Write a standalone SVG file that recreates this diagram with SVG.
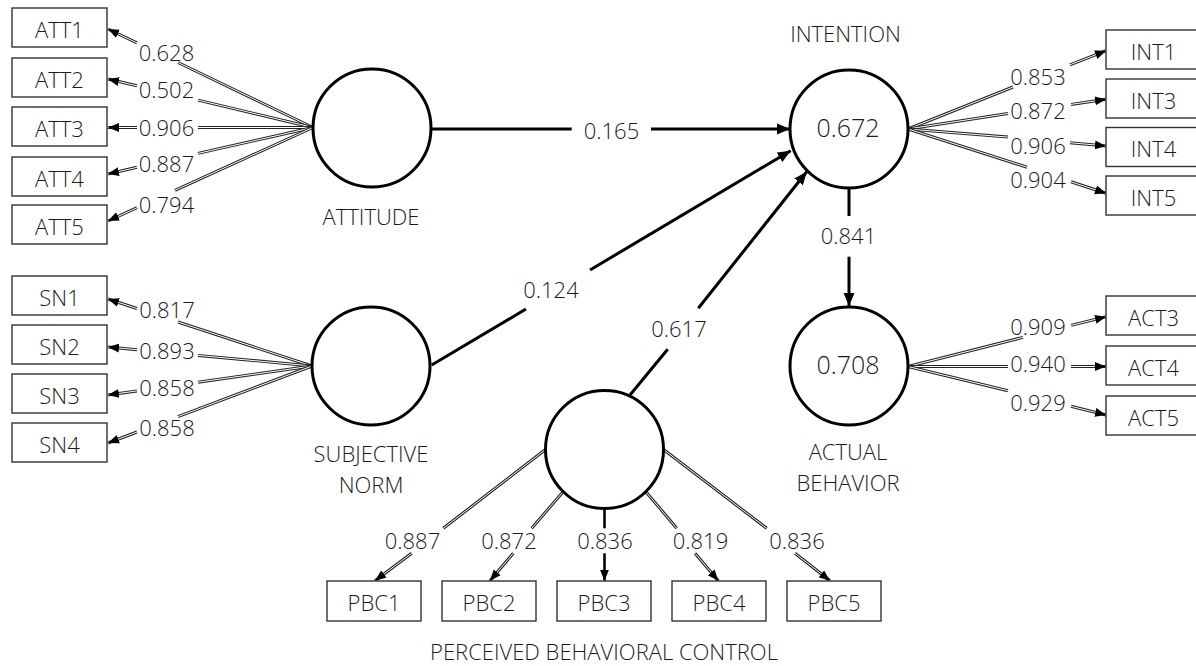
<svg xmlns="http://www.w3.org/2000/svg" width="1196" height="666" viewBox="0 0 1196 666">
<style>
text{font-family:"Open Sans","Noto Sans","Liberation Sans",sans-serif;font-weight:300;fill:#1a1a1a;font-size:22px;text-anchor:middle}
.big{font-size:25px}
.box{fill:#fff;stroke:#333;stroke-width:1.4}
.lv{fill:#fff;stroke:#000;stroke-width:3}
.path{fill:none;stroke:#000;stroke-width:3}
.dout{fill:none;stroke:#222;stroke-width:3}
.din{fill:none;stroke:#fff;stroke-width:1}
.solid{fill:none;stroke:#000;stroke-width:2.6}
</style>
<defs>
<marker id="ab" markerUnits="userSpaceOnUse" markerWidth="14" markerHeight="12" refX="13" refY="6" orient="auto"><path d="M0,0.5 L13,6 L0,11.5 z" fill="#000"/></marker>
<marker id="as" markerUnits="userSpaceOnUse" markerWidth="12" markerHeight="10" refX="11" refY="5" orient="auto"><path d="M0,0.5 L11,5 L0,9.5 z" fill="#000"/></marker>
</defs>
<rect width="1196" height="666" fill="#fff"/>

<g id="connectors">
<!-- structural -->
<path class="path" d="M431,129 L571.7,129"/>
<path class="path" d="M651,129 L790,129" marker-end="url(#ab)"/>
<path class="path" d="M431.7,365 L526,309"/>
<path class="path" d="M590,270 L790.7,150.7" marker-end="url(#ab)"/>
<path class="path" d="M630,395 L667.7,349.3"/>
<path class="path" d="M698.3,308.3 L806.7,171.7" marker-end="url(#ab)"/>
<path class="path" d="M849,188 L849,216"/>
<path class="path" d="M849,256.7 L849,306" marker-end="url(#ab)"/>

<!-- ATT loadings -->
<g>
<path class="dout" d="M313,127.5 L178,62.5 M137,42.9 L108,29"/>
<path class="din" d="M313,127.5 L178,62.5 M137,42.9 L108,29" marker-end="url(#as)"/>
<path class="dout" d="M313,127.5 L198,100.1 M137,85.8 L108,79"/>
<path class="din" d="M313,127.5 L198,100.1 M137,85.8 L108,79" marker-end="url(#as)"/>
<path class="dout" d="M313,127.5 L198,127.5 M137,127.5 L108,127.5"/>
<path class="din" d="M313,127.5 L198,127.5 M137,127.5 L108,127.5" marker-end="url(#as)"/>
<path class="dout" d="M313,127.5 L198,153.4 M137,167.3 L108,174"/>
<path class="din" d="M313,127.5 L198,153.4 M137,167.3 L108,174" marker-end="url(#as)"/>
<path class="dout" d="M313,127.5 L175,190.3 M137,207.7 L108,221"/>
<path class="din" d="M313,127.5 L175,190.3 M137,207.7 L108,221" marker-end="url(#as)"/>
</g>
<!-- SN loadings -->
<g>
<path class="dout" d="M312,366 L178,322 M137,308.5 L108,299"/>
<path class="din" d="M312,366 L178,322 M137,308.5 L108,299" marker-end="url(#as)"/>
<path class="dout" d="M312,366 L198,355.4 M137,349.7 L108,347"/>
<path class="din" d="M312,366 L198,355.4 M137,349.7 L108,347" marker-end="url(#as)"/>
<path class="dout" d="M312,366 L198,382.2 M137,390.9 L108,395"/>
<path class="din" d="M312,366 L198,382.2 M137,390.9 L108,395" marker-end="url(#as)"/>
<path class="dout" d="M312,366 L178,416.6 M137,432 L108,443"/>
<path class="din" d="M312,366 L178,416.6 M137,432 L108,443" marker-end="url(#as)"/>
</g>
<!-- INT loadings -->
<g>
<path class="dout" d="M908,129 L1013,87 M1070,64.8 L1106,50.7"/>
<path class="din" d="M908,129 L1013,87 M1070,64.8 L1106,50.7" marker-end="url(#as)"/>
<path class="dout" d="M908,129 L1008,113.5 M1071,104.4 L1106,99.3"/>
<path class="din" d="M908,129 L1008,113.5 M1071,104.4 L1106,99.3" marker-end="url(#as)"/>
<path class="dout" d="M908,129 L1008,137.1 M1070,142.7 L1106,146"/>
<path class="din" d="M908,129 L1008,137.1 M1070,142.7 L1106,146" marker-end="url(#as)"/>
<path class="dout" d="M908,129 L1027,167.2 M1071,181.8 L1106,193.3"/>
<path class="din" d="M908,129 L1027,167.2 M1071,181.8 L1106,193.3" marker-end="url(#as)"/>
</g>
<!-- ACT loadings -->
<g>
<path class="dout" d="M908,366.5 L1023,337.4 M1071,325.4 L1106,316.7"/>
<path class="din" d="M908,366.5 L1023,337.4 M1071,325.4 L1106,316.7" marker-end="url(#as)"/>
<path class="dout" d="M908,366.5 L1008,366.5 M1071,366.5 L1106,366.5"/>
<path class="din" d="M908,366.5 L1008,366.5 M1071,366.5 L1106,366.5" marker-end="url(#as)"/>
<path class="dout" d="M908,366.5 L1008,390.7 M1071,406.3 L1106,415"/>
<path class="din" d="M908,366.5 L1008,390.7 M1071,406.3 L1106,415" marker-end="url(#as)"/>
</g>
<!-- PBC loadings -->
<g>
<path class="dout" d="M545.5,449.5 L443.3,528.3 M411.7,553.3 L375,580.7"/>
<path class="din" d="M545.5,449.5 L443.3,528.3 M411.7,553.3 L375,580.7" marker-end="url(#as)"/>
<path class="dout" d="M562.3,492.7 L531.7,528.3 M513.3,553.3 L490,580.7"/>
<path class="din" d="M562.3,492.7 L531.7,528.3 M513.3,553.3 L490,580.7" marker-end="url(#as)"/>
<path class="solid" d="M604.5,508.5 L604.5,528.3"/>
<path class="solid" d="M604.5,553.3 L604.5,580.7" marker-end="url(#as)"/>
<path class="dout" d="M646.7,492.7 L676.7,528.3 M695,553.3 L718.3,580.7"/>
<path class="din" d="M646.7,492.7 L676.7,528.3 M695,553.3 L718.3,580.7" marker-end="url(#as)"/>
<path class="dout" d="M663.5,449.5 L766.7,528.3 M795,553.3 L830,580.7"/>
<path class="din" d="M663.5,449.5 L766.7,528.3 M795,553.3 L830,580.7" marker-end="url(#as)"/>
</g>
<!-- labels -->
<g>
<text x="611.5" y="139">0.165</text>
<text x="551" y="298.3">0.124</text>
<text x="679" y="336.7">0.617</text>
<text x="848.5" y="244.3">0.841</text>
<text x="166.5" y="61">0.628</text>
<text x="166.5" y="98">0.502</text>
<text x="166.5" y="136">0.906</text>
<text x="166.5" y="172">0.887</text>
<text x="166.5" y="213">0.794</text>
<text x="167" y="317.7">0.817</text>
<text x="167" y="359">0.893</text>
<text x="167" y="396">0.858</text>
<text x="167" y="436">0.858</text>
<text x="1038" y="85">0.853</text>
<text x="1038" y="119.3">0.872</text>
<text x="1038" y="154">0.906</text>
<text x="1038" y="188.3">0.904</text>
<text x="1038" y="335">0.909</text>
<text x="1038" y="372.3">0.940</text>
<text x="1038" y="410.7">0.929</text>
<text x="412.5" y="549">0.887</text>
<text x="509" y="549">0.872</text>
<text x="605" y="549">0.836</text>
<text x="700.5" y="549">0.819</text>
<text x="797" y="549">0.836</text>
</g>
</g>

<g id="attitude">
<circle class="lv" cx="372" cy="128" r="59"/>
<text x="371" y="225">ATTITUDE</text>
</g>
<g id="subjective_norm">
<circle class="lv" cx="371" cy="366" r="59"/>
<text x="371" y="461.7">SUBJECTIVE</text>
<text x="371" y="492.7">NORM</text>
</g>
<g id="intention">
<circle class="lv" cx="849" cy="129" r="59"/>
<text class="big" x="848" y="137.3">0.672</text>
<text x="845.5" y="42.3">INTENTION</text>
</g>
<g id="actual_behavior">
<circle class="lv" cx="849" cy="366" r="59"/>
<text class="big" x="848" y="374.3">0.708</text>
<text x="848" y="460">ACTUAL</text>
<text x="848" y="491">BEHAVIOR</text>
</g>
<g id="pbc">
<circle class="lv" cx="604.5" cy="449.5" r="59"/>
<text x="604" y="660">PERCEIVED BEHAVIORAL CONTROL</text>
</g>

<g id="att1"><rect class="box" x="12" y="8" width="95" height="39"/><text x="59.5" y="37.5">ATT1</text></g>
<g id="att2"><rect class="box" x="12" y="58" width="95" height="39"/><text x="59.5" y="87.5">ATT2</text></g>
<g id="att3"><rect class="box" x="12" y="107" width="95" height="39"/><text x="59.5" y="136.5">ATT3</text></g>
<g id="att4"><rect class="box" x="12" y="157" width="95" height="39"/><text x="59.5" y="186.5">ATT4</text></g>
<g id="att5"><rect class="box" x="12" y="205" width="95" height="39"/><text x="59.5" y="234.5">ATT5</text></g>

<g id="sn1"><rect class="box" x="12" y="276" width="95" height="39"/><text x="59.5" y="305.5">SN1</text></g>
<g id="sn2"><rect class="box" x="12" y="325" width="95" height="39"/><text x="59.5" y="354.5">SN2</text></g>
<g id="sn3"><rect class="box" x="12" y="374" width="95" height="39"/><text x="59.5" y="403.5">SN3</text></g>
<g id="sn4"><rect class="box" x="12" y="423" width="95" height="39"/><text x="59.5" y="452.5">SN4</text></g>

<g id="int1"><rect class="box" x="1106" y="30" width="95" height="39"/><text x="1153.5" y="59.5">INT1</text></g>
<g id="int3"><rect class="box" x="1106" y="79" width="95" height="39"/><text x="1153.5" y="108.5">INT3</text></g>
<g id="int4"><rect class="box" x="1106" y="127.5" width="95" height="39"/><text x="1153.5" y="157">INT4</text></g>
<g id="int5"><rect class="box" x="1106" y="176" width="95" height="39"/><text x="1153.5" y="205.5">INT5</text></g>

<g id="act3"><rect class="box" x="1106" y="296" width="95" height="39"/><text x="1153.5" y="325.5">ACT3</text></g>
<g id="act4"><rect class="box" x="1106" y="346" width="95" height="39"/><text x="1153.5" y="375.5">ACT4</text></g>
<g id="act5"><rect class="box" x="1106" y="396" width="95" height="39"/><text x="1153.5" y="425.5">ACT5</text></g>

<g id="pbc1"><rect class="box" x="327" y="581" width="94" height="40"/><text x="374" y="611">PBC1</text></g>
<g id="pbc2"><rect class="box" x="442" y="581" width="94" height="40"/><text x="489" y="611">PBC2</text></g>
<g id="pbc3"><rect class="box" x="557" y="581" width="94" height="40"/><text x="604" y="611">PBC3</text></g>
<g id="pbc4"><rect class="box" x="672" y="581" width="94" height="40"/><text x="719" y="611">PBC4</text></g>
<g id="pbc5"><rect class="box" x="787" y="581" width="94" height="40"/><text x="834" y="611">PBC5</text></g>
</svg>
